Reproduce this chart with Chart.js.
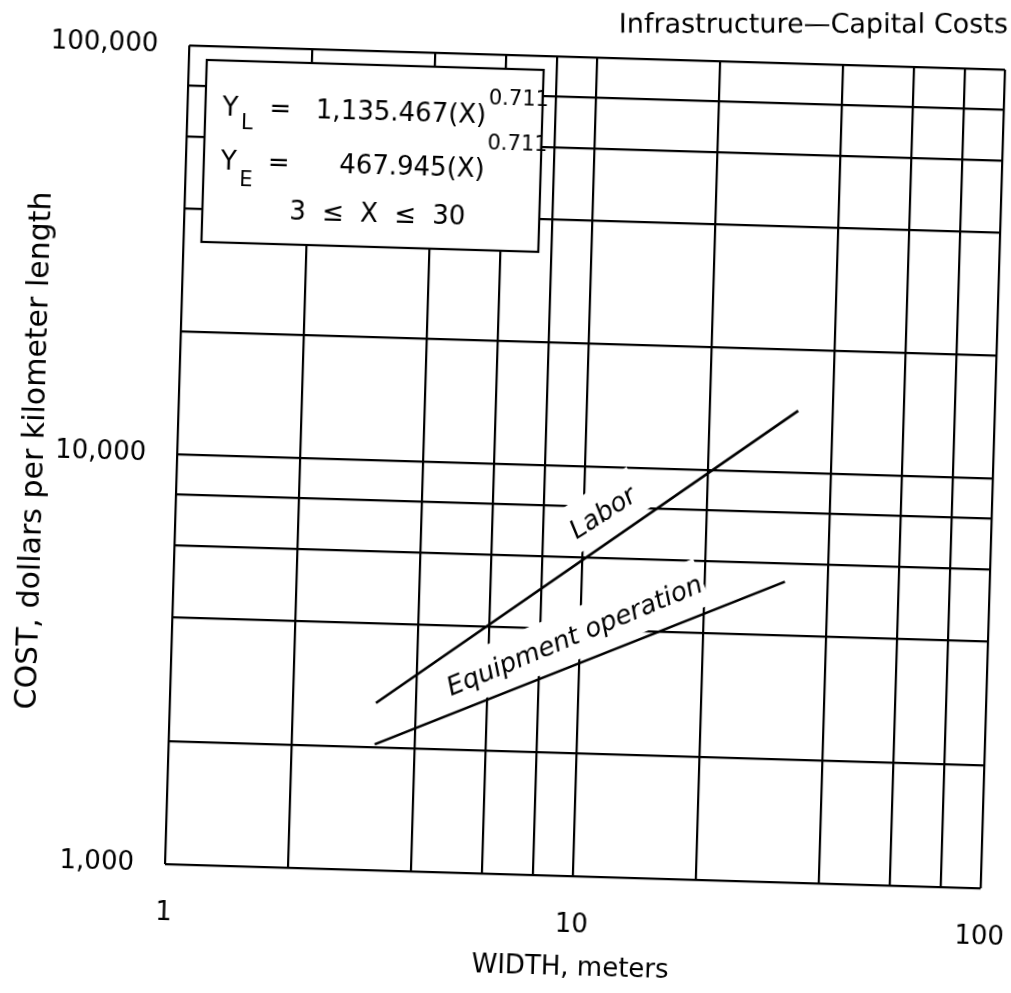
<!DOCTYPE html>
<html><head><meta charset="utf-8">
<script src="https://cdn.jsdelivr.net/npm/chart.js@4.4.1/dist/chart.umd.min.js"></script>
<style>
html,body{margin:0;padding:0;background:#fff;overflow:hidden;width:1011px;height:993px;}
#c{position:absolute;left:-40px;top:-40px;transform:rotate(1.7deg);transform-origin:50% 50%;}
</style></head><body>
<canvas id="c" width="1091" height="1073"></canvas>
<script>
// ---- data ----
const chartTitle = 'Infrastructure—Capital Costs';
const xAxisTitle = 'WIDTH, meters';
const yAxisTitle = 'COST, dollars per kilometer length';
const xGridValues = [1, 2, 4, 6, 8, 10, 20, 40, 60, 80, 100];
const yGridValues = [1000, 2000, 4000, 6000, 8000, 10000, 20000, 40000, 60000, 80000, 100000];
const xTickLabels = {1: '1', 10: '10', 100: '100'};
const yTickLabels = {1000: '1,000', 10000: '10,000', 100000: '100,000'};
const seriesNames = ['Labor', 'Equipment operation'];
const laborWidth = [3.2, 33];
const laborCost = [2560, 14200];
const equipmentWidth = [3.2, 31.5];
const equipmentCost = [2030, 5420];
const labelAnchorX = [11.2, 9.73];
const labelAnchorY = [7700, 3835];
const eqSubscripts = ['L', 'E'];
const eqCoefficients = ['1,135.467', '467.945'];
const eqExponent = '0.711';
const eqRange = '3 ≤ X ≤ 30';

const FONT = '"DejaVu Sans", sans-serif';
const DEG = Math.PI / 180;
Chart.defaults.font.family = FONT;
Chart.defaults.color = '#000';

const overlay = {
  id: 'overlay',
  beforeDraw(chart) {
    const c = chart.ctx;
    c.save(); c.fillStyle = '#fff'; c.fillRect(0, 0, chart.width, chart.height); c.restore();
  },
  beforeDatasetsDraw(chart) {
    const {ctx, chartArea: a, scales: {x, y}} = chart;
    ctx.save();
    // equation box
    const bx = a.left + 18, by = a.top + 14, bw = 337, bh = 182;
    ctx.fillStyle = '#fff'; ctx.fillRect(bx, by, bw, bh);
    ctx.strokeStyle = '#000'; ctx.lineWidth = 2.2; ctx.strokeRect(bx, by, bw, bh);
    ctx.fillStyle = '#000'; ctx.textBaseline = 'alphabetic';
    const main = '26px ' + FONT, small = '21px ' + FONT;
    const base = [55, 109], subBase = [68, 125], supBase = [36, 81];
    for (let i = 0; i < 2; i++) {
      ctx.font = main; ctx.textAlign = 'left';
      ctx.fillText('Y', bx + 17, by + base[i]);
      ctx.font = small;
      ctx.fillText(eqSubscripts[i], bx + 36, by + subBase[i]);
      ctx.font = main; ctx.textAlign = 'center';
      ctx.fillText('=', bx + 75, by + base[i]);
      ctx.textAlign = 'right';
      ctx.fillText(eqCoefficients[i] + '(X)', bx + 281, by + base[i]);
      ctx.font = small; ctx.textAlign = 'left';
      ctx.fillText(eqExponent, bx + 283, by + supBase[i]);
    }
    ctx.font = main; ctx.textAlign = 'center';
    try { ctx.wordSpacing = '8px'; } catch (e) {}
    ctx.fillText(eqRange, bx + 175, by + 157);
    try { ctx.wordSpacing = '0px'; } catch (e) {}

    // curve labels with white knockouts
    const knock = [[8, 8, 27, 20, -34.7], [6, 2, 27, 22, -24.3]];
    for (let i = 0; i < 2; i++) {
      const [pl, pr, up, down, ang] = knock[i];
      const px = x.getPixelForValue(labelAnchorX[i]);
      const py = y.getPixelForValue(labelAnchorY[i]);
      ctx.save();
      ctx.translate(px, py); ctx.rotate(ang * DEG);
      ctx.font = 'italic 26px ' + FONT;
      const w = ctx.measureText(seriesNames[i]).width;
      ctx.fillStyle = '#fff';
      ctx.fillRect(-w / 2 - pl, -up, w + pl + pr, up + down);
      ctx.fillStyle = '#000'; ctx.textAlign = 'center'; ctx.textBaseline = 'middle';
      ctx.fillText(seriesNames[i], 0, 0);
      ctx.restore();
    }
    ctx.restore();
  },
  afterDraw(chart) {
    const ctx = chart.ctx, a = chart.chartArea;
    ctx.save();
    ctx.translate(a.right + 2, a.top - 37);
    ctx.rotate(-1.7 * DEG);
    ctx.font = '27px ' + FONT; ctx.fillStyle = '#000';
    ctx.textAlign = 'right'; ctx.textBaseline = 'alphabetic';
    ctx.fillText(chartTitle, 0, 0);
    ctx.restore();
  }
};

const gridOpts = {color: '#000', lineWidth: 2.2, drawTicks: false, tickLength: 0};

new Chart(document.getElementById('c'), {
  type: 'line',
  data: {
    datasets: [
      {label: seriesNames[0], data: laborWidth.map((v, i) => ({x: v, y: laborCost[i]})),
       borderColor: '#000', borderWidth: 2.6, pointRadius: 0, tension: 0, fill: false},
      {label: seriesNames[1], data: equipmentWidth.map((v, i) => ({x: v, y: equipmentCost[i]})),
       borderColor: '#000', borderWidth: 2.6, pointRadius: 0, tension: 0, fill: false}
    ]
  },
  options: {
    responsive: false,
    animation: false,
    events: [],
    layout: {padding: {left: 40, top: 95, right: 59, bottom: 40}},
    plugins: {legend: {display: false}, tooltip: {enabled: false}, title: {display: false}},
    scales: {
      x: {
        type: 'logarithmic', min: 1, max: 100,
        afterBuildTicks: s => { s.ticks = xGridValues.map(v => ({value: v})); },
        afterFit: s => { s.height = 119; },
        grid: gridOpts,
        border: {display: false},
        ticks: {autoSkip: false, maxRotation: 0, minRotation: 0, padding: 34,
                font: {size: 26}, color: '#000',
                callback: v => xTickLabels[v] || ''},
        title: {display: true, text: xAxisTitle, font: {size: 26}, color: '#000',
                padding: {top: 0, bottom: 11}}
      },
      y: {
        type: 'logarithmic', min: 1000, max: 100000,
        afterBuildTicks: s => { s.ticks = yGridValues.map(v => ({value: v})); },
        afterFit: s => { s.width = 176; },
        grid: gridOpts,
        border: {display: false},
        ticks: {autoSkip: false, padding: 31, font: {size: 26}, color: '#000',
                callback: v => yTickLabels[v] || ''},
        title: {display: true, text: yAxisTitle, font: {size: 30}, color: '#000',
                padding: {top: 16, bottom: 0}}
      }
    }
  },
  plugins: [overlay]
});
</script>
</body></html>
